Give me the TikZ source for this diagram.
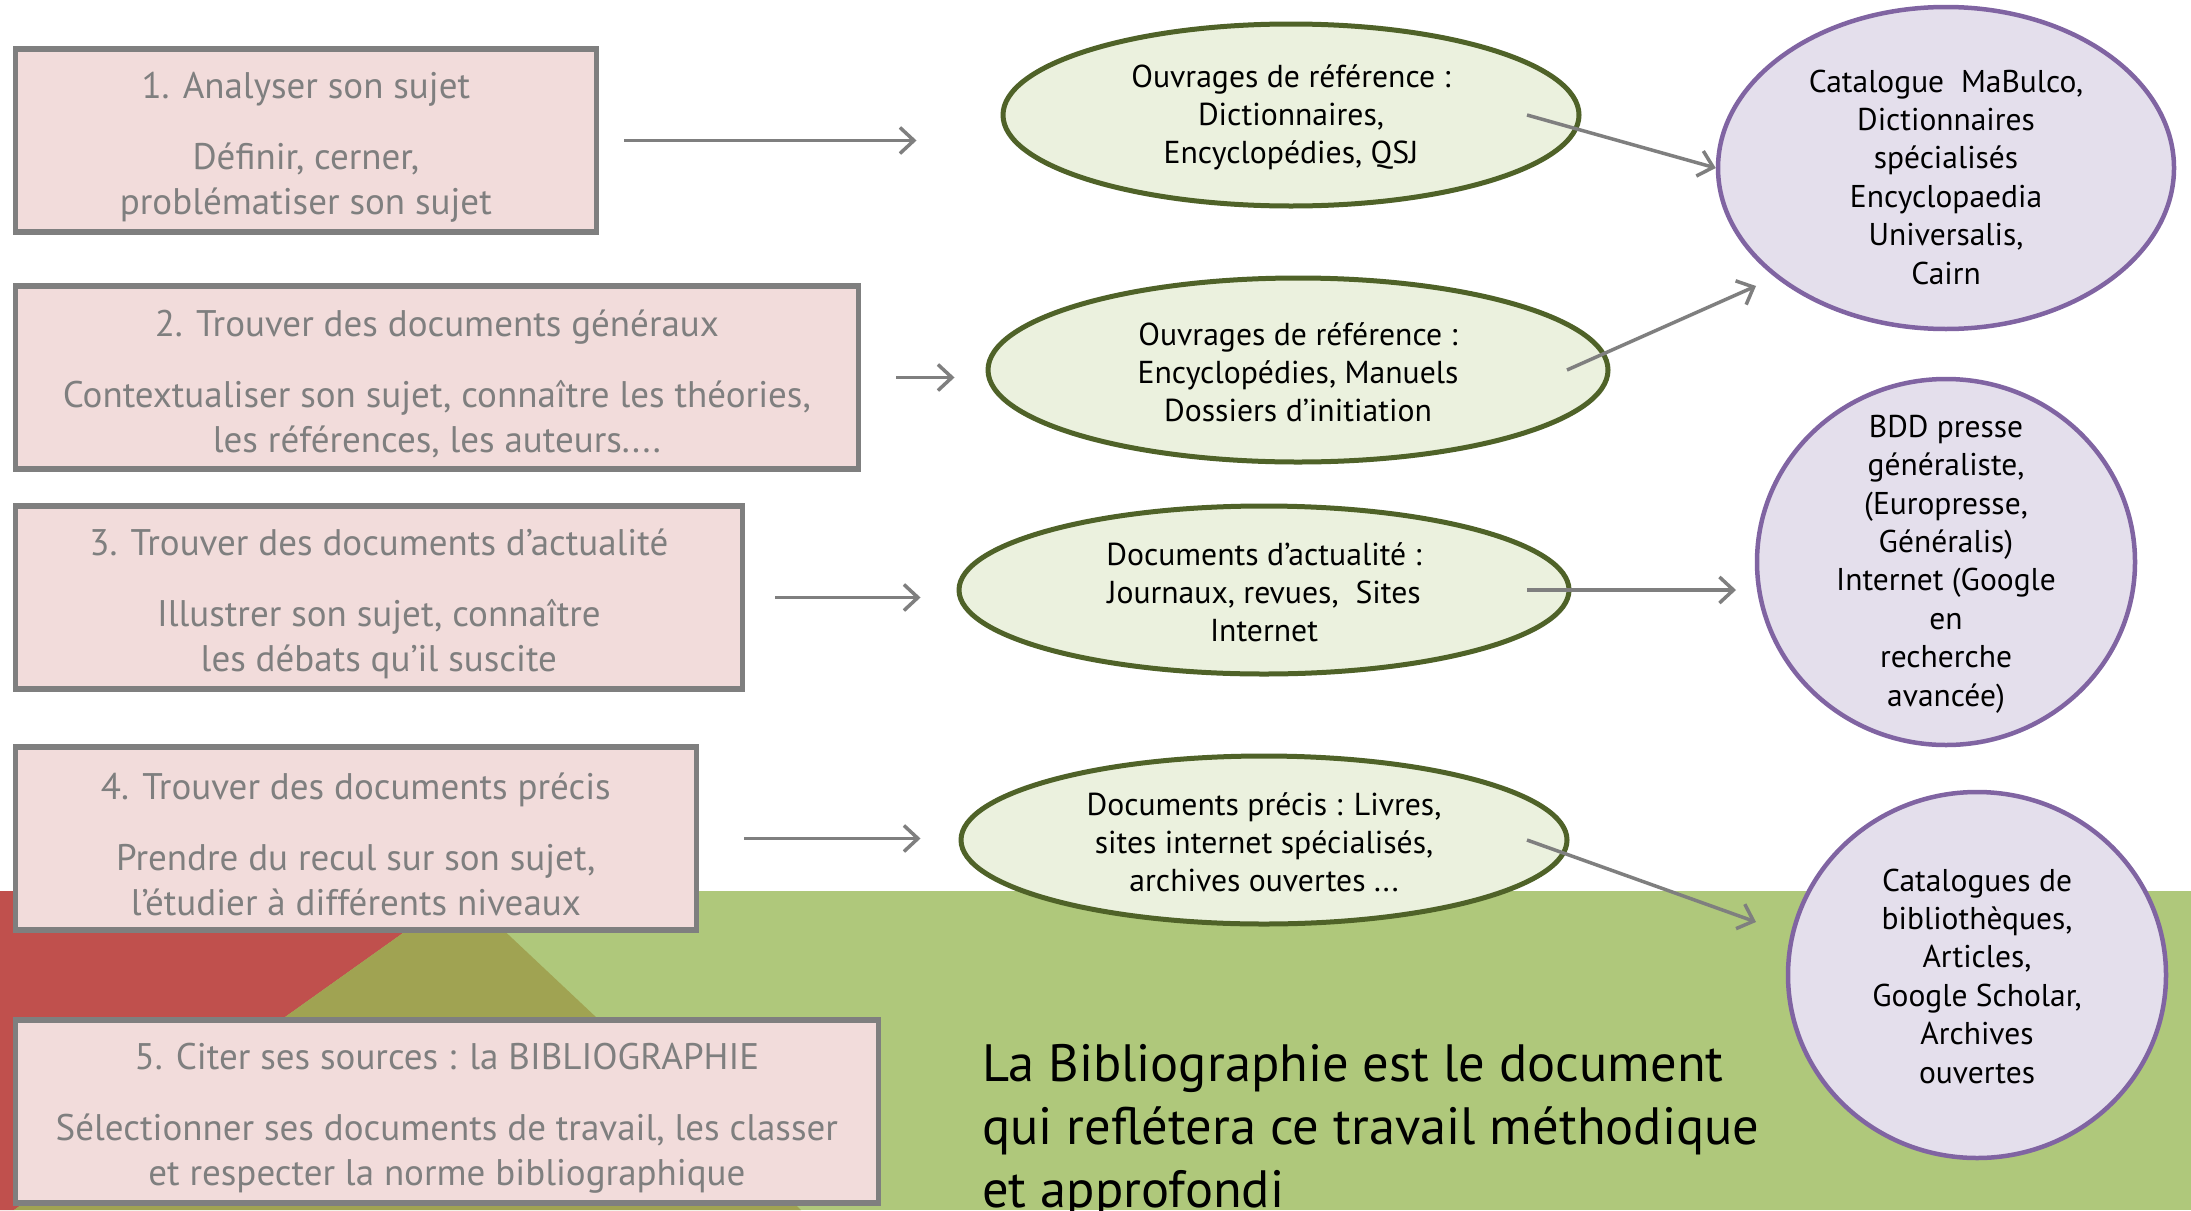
\documentclass[tikz,border=0pt]{standalone}
\usepackage{fontspec}
\setmainfont{PT Sans}
\usetikzlibrary{positioning, calc, arrows.meta, shapes.geometric}

\definecolor{boxfill}{HTML}{F2DCDB}
\definecolor{boxgray}{HTML}{7F7F7F}
\definecolor{vertfill}{HTML}{EBF1DE}
\definecolor{vertdraw}{HTML}{4F6228}
\definecolor{violetfill}{HTML}{E4DFEC}
\definecolor{violetdraw}{HTML}{8064A2}
\definecolor{fondvert}{HTML}{AFC87B}
\definecolor{fondrouge}{HTML}{C0504D}
\definecolor{fondolive}{HTML}{A0A352}

\begin{document}
\begin{tikzpicture}[x=1pt, y=-1pt,
    etape/.style={rectangle, draw=boxgray, line width=5.5pt, fill=boxfill, text=boxgray, align=center, anchor=west, minimum height=183pt, inner sep=0pt, font=\fontsize{37}{45}\selectfont},
    ressource/.style={ellipse, draw=vertdraw, line width=5pt, fill=vertfill, align=center, inner sep=0pt, font=\fontsize{31.7}{38}\selectfont},
    outil/.style={ellipse, draw=violetdraw, line width=4.5pt, fill=violetfill, inner sep=0pt},
    texte/.style={align=center, inner sep=0pt, font=\fontsize{31.5}{38.4}\selectfont},
    arrow/.style={-{Straight Barb[length=14pt, width=26pt]}, line width=3.5pt, boxgray}
]

    % Fond
    \clip (0,0) rectangle (2191,1210);
    \fill[white] (0,0) rectangle (2191,1210);
    \fill[fondvert] (0,891) rectangle (2191,1210);
    \fill[fondrouge] (0,891) -- (462,891) -- (14,1210) -- (0,1210) -- cycle;
    \fill[fondolive] (462,891) -- (801,1210) -- (14,1210) -- cycle;

    % Etapes
    \node[etape, minimum width=581pt] (B1) at (12.6,140.5)
        {\rule{0pt}{39pt}1. Analyser son sujet\\[26pt] Définir, cerner,\\ problématiser son sujet};
    \node[etape, minimum width=843pt] (B2) at (12.6,377.5)
        {\rule{0pt}{39pt}2. Trouver des documents généraux\\[26pt] Contextualiser son sujet, connaître les théories,\\ les références, les auteurs....};
    \node[etape, minimum width=727pt] (B3) at (12.6,597.5)
        {\rule{0pt}{39pt}3. Trouver des documents d’actualité\\[26pt] Illustrer son sujet, connaître\\ les débats qu’il suscite};
    \node[etape, minimum width=681pt] (B4) at (12.6,838.5)
        {\rule{0pt}{39pt}4. Trouver des documents précis\\[26pt] Prendre du recul sur son sujet,\\ l’étudier à différents niveaux};
    \node[etape, minimum width=863pt] (B5) at (12.6,1111.5)
        {\rule{0pt}{39pt}5. Citer ses sources : la BIBLIOGRAPHIE\\[26pt] Sélectionner ses documents de travail, les classer\\ et respecter la norme bibliographique};

    % Ressources
    \node[ressource, minimum width=576pt, minimum height=182pt] (E1) at (1291,115)
        {\rule{0pt}{28pt}Ouvrages de référence :\\ Dictionnaires,\\ Encyclopédies, QSJ};
    \node[ressource, minimum width=620pt, minimum height=184pt] (E2) at (1298,370)
        {\rule{0pt}{28pt}Ouvrages de référence :\\ Encyclopédies, Manuels\\ Dossiers d’initiation};
    \node[ressource, minimum width=610pt, minimum height=168pt] (E3) at (1264,590)
        {\rule{0pt}{28pt}Documents d’actualité :\\ Journaux, revues,\ \ Sites\\ Internet};
    \node[ressource, minimum width=606pt, minimum height=168pt] (E4) at (1264,840)
        {\rule{0pt}{28pt}Documents précis : Livres,\\ sites internet spécialisés,\\ archives ouvertes ...};

    % Outils
    \node[outil, minimum width=456pt, minimum height=322pt] (P1) at (1946,168) {};
    \node[outil, minimum width=378pt, minimum height=366pt] (P2) at (1946,562) {};
    \node[outil, minimum width=378pt, minimum height=366pt] (P3) at (1977,975) {};
    \node[texte] (T1) at ([yshift=-9pt]P1.center)
        {Catalogue\ \ MaBulco,\\ Dictionnaires\\ spécialisés\\ Encyclopaedia\\ Universalis,\\ Cairn};
    \node[texte] (T2) at ([yshift=-2pt]P2.center)
        {BDD presse\\ généraliste,\\ (Europresse,\\ Généralis)\\ Internet (Google\\ en\\ recherche\\ avancée)};
    \node[texte] (T3) at ([yshift=-1pt]P3.center)
        {Catalogues de\\ bibliothèques,\\ Articles,\\ Google Scholar,\\ Archives\\ ouvertes};

    % Fleches etapes -> ressources
    \foreach \i/\a/\b in {1/25/84, 2/35/31, 3/30/36, 4/45/38} {
        \draw[arrow, shorten <=\a pt, shorten >=\b pt] (B\i.east) -- (B\i.east -| E\i.west);
    }

    % Fleches ressources -> outils
    \draw[arrow] ([xshift=236pt]E1.center) -- (P1.west);
    \draw[arrow] ([xshift=269pt]E2.center) -- ([shift={(-190,118)}]P1.center);
    \draw[arrow] ([xshift=263pt]E3.center) -- ([shift={(-210,28)}]P2.center);
    \draw[arrow] ([xshift=263pt]E4.center) -- ([shift={(-221,-53)}]P3.center);

    % Conclusion
    \node[anchor=north west, align=left, inner sep=0pt, font=\fontsize{52.5}{63}\selectfont] (C) at (982,1044)
        {La Bibliographie est le document\\ qui reflétera ce travail méthodique\\ et approfondi};

\end{tikzpicture}
\end{document}
